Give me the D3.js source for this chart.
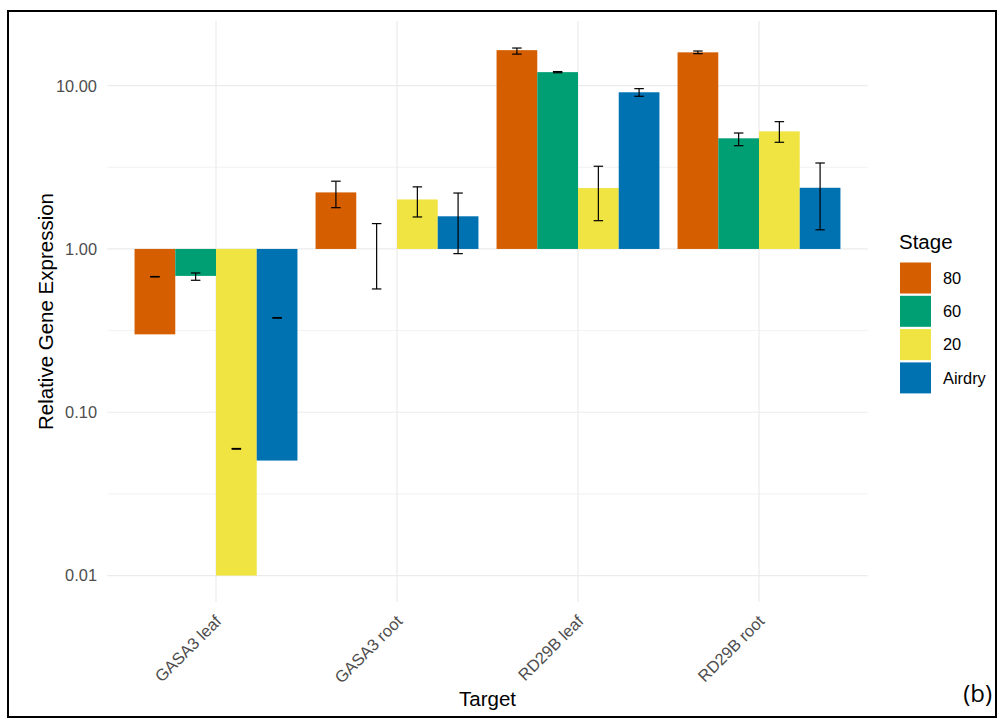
<html>
  <head>
    <title>Relative Gene Expression</title>
    <meta charset="utf-8" />
    <script src="https://cdnjs.cloudflare.com/ajax/libs/d3/7.6.1/d3.min.js"></script>
    <style>
      body { margin: 0; background: #fff; }
      text { font-family: "Liberation Sans", Arial, sans-serif; }
      .tick-y, .tick-x { fill: #4d4d4d; font-size: 16.4px; }
      .title { fill: #000; font-size: 20.5px; }
      .legend-text { fill: #000; font-size: 16.4px; }
    </style>
  </head>
  <body>
    <svg width="997" height="718"></svg>
  </body>

  <script>
    // values
    const targets = ["GASA3 leaf", "GASA3 root", "RD29B leaf", "RD29B root"];
    const stages = ["80", "60", "20", "Airdry"];
    const colors = ["#D55E00", "#009E73", "#F0E442", "#0072B2"];

    const val80 = [0.30, 2.22, 16.5, 16.0];
    const val60 = [0.684, 1.0, 12.1, 4.76];
    const val20 = [0.01, 2.01, 2.36, 5.25];
    const valAir = [0.0506, 1.585, 9.11, 2.37];

    const lo80 = [0.674, 1.79, 15.6, 15.7];
    const hi80 = [0.678, 2.60, 17.0, 16.3];
    const lo60 = [0.643, 0.569, 12.0, 4.29];
    const hi60 = [0.713, 1.43, 12.2, 5.13];
    const lo20 = [0.0594, 1.57, 1.49, 4.50];
    const hi20 = [0.0600, 2.40, 3.21, 6.02];
    const loAir = [0.377, 0.936, 8.61, 1.31];
    const hiAir = [0.380, 2.20, 9.59, 3.36];

    const yTicks = [0.01, 0.1, 1, 10];
    const yMinor = [0.0316228, 0.316228, 3.16228];

    const vals = [val80, val60, val20, valAir];
    const los = [lo80, lo60, lo20, loAir];
    const his = [hi80, hi60, hi20, hiAir];

    let data = [];
    targets.forEach((t, i) => {
      stages.forEach((s, j) => {
        data.push({ target: t, stage: s, value: vals[j][i], lo: los[j][i], hi: his[j][i] });
      });
    });

    let svg = d3.select("svg");
    let panel = { left: 107.4, right: 867.6, top: 21, bottom: 602 };

    // frame round the whole figure
    svg.append("rect")
      .attr("x", 8).attr("y", 11)
      .attr("width", 988).attr("height", 706)
      .attr("fill", "none").attr("stroke", "#000").attr("stroke-width", 2);

    let x = d3.scaleBand()
      .domain(targets)
      .range([panel.left, panel.right])
      .paddingInner(0.1)
      .paddingOuter(0.15);

    let xs = d3.scaleBand().domain(stages).range([0, x.bandwidth()]);

    let y = d3.scaleLog()
      .domain([Math.pow(10, -2.162), Math.pow(10, 1.396)])
      .range([panel.bottom, panel.top]);

    let color = d3.scaleOrdinal().domain(stages).range(colors);

    // grid
    let grid = svg.append("g");
    grid.selectAll(".minor")
      .data(yMinor).enter().append("line")
      .attr("x1", panel.left).attr("x2", panel.right)
      .attr("y1", (d) => y(d)).attr("y2", (d) => y(d))
      .attr("stroke", "#ededed").attr("stroke-width", 0.8);
    grid.selectAll(".major")
      .data(yTicks).enter().append("line")
      .attr("x1", panel.left).attr("x2", panel.right)
      .attr("y1", (d) => y(d)).attr("y2", (d) => y(d))
      .attr("stroke", "#ebebeb").attr("stroke-width", 1.2);
    grid.selectAll(".vert")
      .data(targets).enter().append("line")
      .attr("x1", (d) => x(d) + x.bandwidth() / 2)
      .attr("x2", (d) => x(d) + x.bandwidth() / 2)
      .attr("y1", panel.top).attr("y2", panel.bottom)
      .attr("stroke", "#ebebeb").attr("stroke-width", 1.2);

    // bars start at 1 on the log axis
    let base = y(1);
    svg.append("g").selectAll("rect")
      .data(data).enter().append("rect")
      .attr("x", (d) => x(d.target) + xs(d.stage))
      .attr("width", xs.bandwidth())
      .attr("y", (d) => Math.min(y(d.value), base))
      .attr("height", (d) => Math.abs(y(d.value) - base))
      .attr("fill", (d) => color(d.stage));

    // error bars
    let capW = 9.5;
    let eb = svg.append("g").attr("stroke", "#000").attr("stroke-width", 1.2)
      .selectAll("g").data(data).enter().append("g")
      .attr("transform", (d) => `translate(${x(d.target) + xs(d.stage) + xs.bandwidth() / 2},0)`);
    eb.append("line").attr("y1", (d) => y(d.lo)).attr("y2", (d) => y(d.hi));
    eb.append("line").attr("x1", -capW / 2).attr("x2", capW / 2)
      .attr("y1", (d) => y(d.lo)).attr("y2", (d) => y(d.lo));
    eb.append("line").attr("x1", -capW / 2).attr("x2", capW / 2)
      .attr("y1", (d) => y(d.hi)).attr("y2", (d) => y(d.hi));

    // y axis labels
    svg.append("g").selectAll("text")
      .data(yTicks).enter().append("text")
      .attr("class", "tick-y")
      .attr("x", 97)
      .attr("y", (d) => y(d))
      .attr("dy", "0.36em")
      .attr("text-anchor", "end")
      .text((d) => d3.format(".2f")(d));

    // x axis labels, rotated
    svg.append("g").selectAll("text")
      .data(targets).enter().append("text")
      .attr("class", "tick-x")
      .attr("text-anchor", "end")
      .attr("transform", (d) => `translate(${x(d) + x.bandwidth() / 2 - 2},${panel.bottom + 12}) rotate(-45)`)
      .attr("dy", "0.72em")
      .text((d) => d);

    svg.append("text")
      .attr("class", "title")
      .attr("x", (panel.left + panel.right) / 2)
      .attr("y", 706)
      .attr("text-anchor", "middle")
      .text("Target");

    svg.append("text")
      .attr("class", "title")
      .attr("transform", `translate(53,${(panel.top + panel.bottom) / 2}) rotate(-90)`)
      .attr("text-anchor", "middle")
      .text("Relative Gene Expression");

    // legend
    let legend = svg.append("g").attr("transform", "translate(899,0)");
    legend.append("text").attr("class", "title").attr("x", 0).attr("y", 249).text("Stage");
    let item = legend.selectAll(".item")
      .data(stages).enter().append("g")
      .attr("transform", (d, i) => `translate(0,${262 + i * 33.3})`);
    item.append("rect")
      .attr("x", 1).attr("y", 0.5)
      .attr("width", 31).attr("height", 31)
      .attr("fill", (d) => color(d));
    item.append("text")
      .attr("class", "legend-text")
      .attr("x", 44).attr("y", 16)
      .attr("dy", "0.36em")
      .text((d) => d);

    svg.append("text")
      .attr("x", 992).attr("y", 702)
      .attr("text-anchor", "end")
      .style("font-family", "'Open Sans', sans-serif")
      .style("font-size", "24px")
      .text("(b)");
  </script>
</html>
